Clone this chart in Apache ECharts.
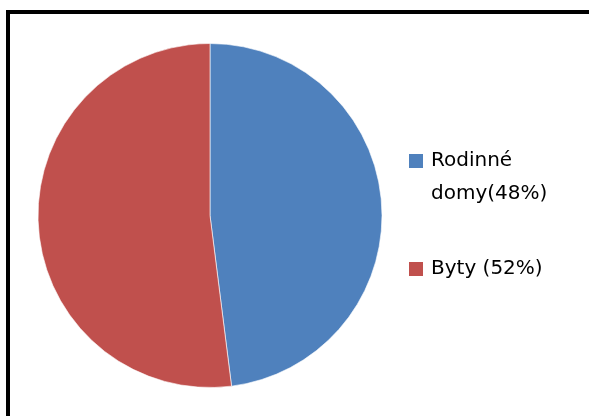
<!DOCTYPE html>
<html>
<head>
<meta charset="utf-8">
<script src="https://cdn.jsdelivr.net/npm/echarts@6/dist/echarts.min.js"></script>
<style>
  html, body { margin: 0; padding: 0; background: #fff; }
  #chart { width: 589px; height: 416px; }
</style>
</head>
<body>
<div id="chart"></div>
<script>
// Housing types and their shares (%)
const categories = ['Rodinné domy', 'Byty'];
const shares = [48, 52];
const legendLabels = ['Rodinné\ndomy(48%)', 'Byty (52%)'];
const colors = ['#4F81BD', '#C0504D'];

const chart = echarts.init(document.getElementById('chart'));

const LINE_H = 33;
const richText = {
  t: { fontFamily: 'DejaVu Sans', fontSize: 20, color: '#000', lineHeight: LINE_H, padding: [0, 0, 0, 3] }
};
const toRich = s => s.split('\n').map(line => '{t|' + line + '}').join('\n');

// Square marker pinned to the top of a taller box so it sits beside the first text line
const topSquare = 'path://M0,0h14v14h-14z M0,46.99h0.01v0.01h-0.01z';

chart.setOption({
  backgroundColor: '#fff',
  animation: false,
  color: colors,
  graphic: [{
    type: 'rect',
    shape: { x: 8, y: 12, width: 640, height: 460 },
    style: { fill: 'none', stroke: '#000', lineWidth: 4 },
    silent: true
  }],
  legend: [
    {
      data: [categories[0]],
      orient: 'vertical',
      left: 404,
      top: 146,
      itemWidth: 14,
      itemHeight: 47,
      itemGap: 0,
      icon: topSquare,
      itemStyle: { borderWidth: 0 },
      formatter: () => toRich(legendLabels[0]),
      textStyle: { rich: richText },
      selectedMode: false
    },
    {
      data: [categories[1]],
      orient: 'vertical',
      left: 404,
      top: 254,
      itemWidth: 14,
      itemHeight: 14,
      itemGap: 0,
      icon: 'rect',
      itemStyle: { borderWidth: 0 },
      formatter: () => toRich(legendLabels[1]),
      textStyle: { rich: richText },
      selectedMode: false
    }
  ],
  series: [{
    type: 'pie',
    center: [210, 215.5],
    radius: [0, 172],
    startAngle: 90,
    clockwise: true,
    label: { show: false },
    labelLine: { show: false },
    emphasis: { disabled: true },
    itemStyle: { borderColor: '#fff', borderWidth: 0.6 },
    data: categories.map((name, i) => ({ name, value: shares[i] }))
  }]
});
</script>
</body>
</html>
